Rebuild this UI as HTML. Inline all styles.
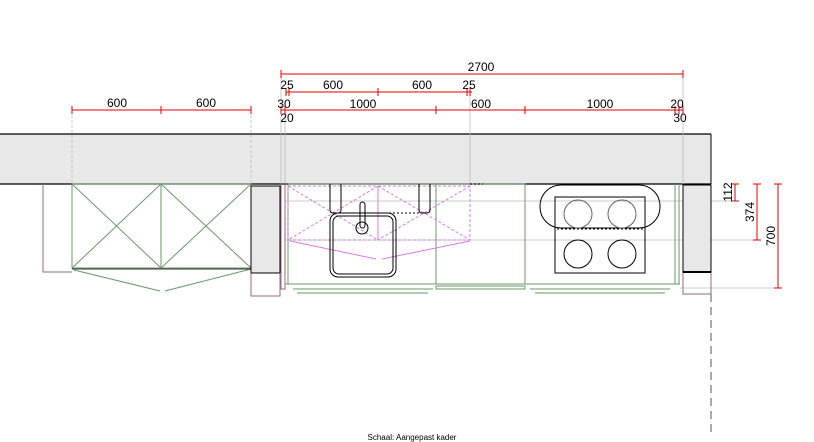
<!DOCTYPE html>
<html><head><meta charset="utf-8"><style>
html,body{margin:0;padding:0;background:#fff;}
svg{display:block;}
text{font-family:"Liberation Sans",sans-serif;fill:#000;}
</style></head><body>
<svg width="814" height="442" viewBox="0 0 814 442" xmlns="http://www.w3.org/2000/svg">
<rect x="0" y="134" width="711" height="50" fill="#e8e8e8"/>
<line x1="0" y1="134" x2="711" y2="134" stroke="#000" stroke-width="1.3"/>
<line x1="0" y1="184" x2="711" y2="184" stroke="#000" stroke-width="1.3"/>
<line x1="711" y1="134" x2="711" y2="184" stroke="#000" stroke-width="1"/>

<g stroke="#bbb" stroke-width="0.8" fill="none">
<line x1="72" y1="110" x2="72" y2="184" stroke-dasharray="3,2"/>
<line x1="251" y1="110" x2="251" y2="184" stroke-dasharray="3,2"/>
<line x1="281" y1="74" x2="281" y2="184"/>
<line x1="285" y1="110" x2="285" y2="184"/>
<line x1="470" y1="92" x2="470" y2="184"/>
<line x1="683" y1="74" x2="683" y2="184"/>
<line x1="285" y1="201" x2="735" y2="201"/>
<line x1="285" y1="240" x2="757" y2="240"/>
<line x1="680" y1="288" x2="778" y2="288"/>
</g>

<g stroke="#d00" stroke-width="1" fill="none">
<line x1="281" y1="74" x2="683" y2="74"/><line x1="281" y1="70" x2="281" y2="78"/><line x1="683" y1="70" x2="683" y2="78"/>
<line x1="72" y1="110" x2="251" y2="110"/><line x1="72" y1="106" x2="72" y2="114"/><line x1="161" y1="106" x2="161" y2="114"/><line x1="251" y1="106" x2="251" y2="114"/>
<line x1="286" y1="92" x2="472" y2="92"/><line x1="286" y1="88" x2="286" y2="96"/><line x1="289" y1="88" x2="289" y2="96"/><line x1="378" y1="88" x2="378" y2="96"/><line x1="467" y1="88" x2="467" y2="96"/><line x1="470" y1="88" x2="470" y2="96"/>
<line x1="281" y1="110" x2="683" y2="110"/><line x1="281" y1="106" x2="281" y2="114"/><line x1="285" y1="106" x2="285" y2="114"/><line x1="436" y1="106" x2="436" y2="114"/><line x1="525" y1="106" x2="525" y2="114"/><line x1="675" y1="106" x2="675" y2="114"/><line x1="679" y1="106" x2="679" y2="114"/><line x1="683" y1="106" x2="683" y2="114"/>
<line x1="735" y1="184" x2="735" y2="201"/><line x1="731" y1="184" x2="739" y2="184"/><line x1="731" y1="201" x2="739" y2="201"/>
<line x1="757" y1="184" x2="757" y2="240"/><line x1="753" y1="184" x2="761" y2="184"/><line x1="753" y1="240" x2="761" y2="240"/>
<line x1="778" y1="184" x2="778" y2="288"/><line x1="774" y1="184" x2="782" y2="184"/><line x1="774" y1="288" x2="782" y2="288"/>
</g>
<g font-size="12" text-anchor="middle">
<text x="481" y="71">2700</text>
<text x="117" y="107">600</text><text x="206" y="107">600</text>
<text x="287" y="89">25</text><text x="333" y="89">600</text><text x="422" y="89">600</text><text x="469" y="89">25</text>
<text x="284" y="108">30</text><text x="363" y="108">1000</text><text x="481" y="108">600</text><text x="600" y="108">1000</text><text x="677" y="108">20</text>
<text x="287" y="122">20</text><text x="680" y="122">30</text>
<text transform="translate(732,192) rotate(-90)">112</text>
<text transform="translate(754,212) rotate(-90)">374</text>
<text transform="translate(775,236) rotate(-90)">700</text>
</g>

<polyline points="43,184 43,272 72,272" fill="none" stroke="#9a6a78" stroke-width="1"/>
<g stroke="#6a9a6a" stroke-width="1" fill="none">
<rect x="72" y="184" width="89" height="84"/><rect x="161" y="184" width="90" height="84"/>
<line x1="72" y1="184" x2="161" y2="268"/><line x1="161" y1="184" x2="72" y2="268"/>
<line x1="161" y1="184" x2="251" y2="268"/><line x1="251" y1="184" x2="161" y2="268"/>
<line x1="74" y1="270" x2="160" y2="291"/><line x1="165" y1="291" x2="251" y2="269"/>
</g>
<line x1="72" y1="269" x2="251" y2="269" stroke="#333" stroke-width="1"/>
<rect x="251" y="186" width="29" height="87" fill="#e8e8e8" stroke="#000" stroke-width="1"/>
<g stroke="#9a6a78" stroke-width="1" fill="none">
<polyline points="251,273 251,296 280,296 280,273"/>
<polyline points="281,184 281,289 285,289 285,184"/>
<polyline points="683,272 683,294 711,294 711,272"/>
</g>

<g stroke="#6a9a6a" stroke-width="1" fill="none">
<rect x="288" y="184" width="148" height="100"/>
<rect x="436" y="184" width="89" height="100"/>
<line x1="525" y1="184" x2="525" y2="284"/>
<line x1="285" y1="284" x2="680" y2="284"/>
<line x1="675" y1="184" x2="675" y2="284"/><line x1="679" y1="184" x2="679" y2="284"/>
<line x1="293" y1="289" x2="433" y2="289"/><line x1="297" y1="293" x2="428" y2="293"/>
<rect x="436" y="286" width="89" height="3"/>
<line x1="530" y1="289" x2="670" y2="289"/><line x1="535" y1="293" x2="665" y2="293"/>
</g>
<g stroke="#d67ee0" stroke-width="1" fill="none">
<rect x="288" y="186" width="182" height="54" stroke-dasharray="3,2"/>
<line x1="288" y1="186" x2="378" y2="240" stroke-dasharray="3,2"/><line x1="378" y1="186" x2="288" y2="240" stroke-dasharray="3,2"/>
<line x1="378" y1="186" x2="470" y2="240" stroke-dasharray="3,2"/><line x1="470" y1="186" x2="378" y2="240" stroke-dasharray="3,2"/>
<line x1="378" y1="186" x2="378" y2="240"/>
<line x1="290" y1="241" x2="376" y2="259"/><line x1="382" y1="259" x2="470" y2="241"/>
</g>
<line x1="470" y1="184" x2="483" y2="184" stroke="#000" stroke-dasharray="2,2"/>
<g stroke="#000" stroke-width="1" fill="none">
<path d="M330,184 V210 Q330,213 333,213 H338 Q341,213 341,210 V184"/>
<path d="M419,184 V210 Q419,213 422,213 H427 Q430,213 430,210 V184"/>
<line x1="341" y1="213" x2="419" y2="213" stroke-dasharray="2,2"/>
<rect x="330" y="213" width="66" height="64" rx="8"/>
<rect x="333" y="216" width="60" height="58" rx="6"/>
<rect x="360" y="202" width="5" height="26" rx="2.5"/>
<circle cx="362" cy="228" r="6"/>
</g>

<g stroke="#000" stroke-width="1" fill="none">
<rect x="540" y="185" width="120" height="43" rx="21"/>
<rect x="555" y="197" width="90" height="76"/>
<rect x="555" y="197" width="90" height="32" stroke-dasharray="2,2"/>
<circle cx="578" cy="214" r="14" stroke="#666"/><circle cx="622" cy="214" r="14" stroke="#666"/>
<circle cx="578" cy="254" r="14"/><circle cx="622" cy="254" r="14"/>
</g>

<rect x="683" y="185" width="28" height="87" fill="#e8e8e8" stroke="#000" stroke-width="1"/>
<line x1="683" y1="272" x2="711" y2="272" stroke="#000" stroke-width="2"/>
<line x1="711" y1="294" x2="711" y2="435" stroke="#555" stroke-width="1" stroke-dasharray="8,5"/>

<text x="412" y="440" font-size="8" text-anchor="middle">Schaal: Aangepast kader</text>
</svg>
</body></html>
